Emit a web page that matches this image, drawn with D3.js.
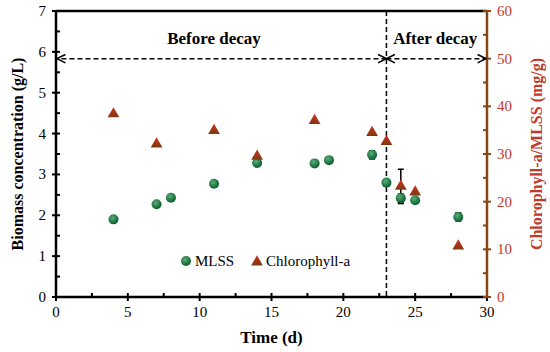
<!DOCTYPE html>
<html>
<head>
<meta charset="utf-8">
<script src="https://cdn.jsdelivr.net/npm/d3@7"></script>
<style>
  body { margin: 0; background: #fff; }
  text { font-family: "Liberation Serif", "Times New Roman", serif; }
</style>
</head>
<body>
<script>
// Data
var mlssDays = [4, 7, 8, 11, 14, 18, 19, 22, 23, 24, 25, 28];
var mlssValues = [1.90, 2.27, 2.43, 2.77, 3.28, 3.27, 3.35, 3.48, 2.80, 2.42, 2.37, 1.96];
var mlssErrors = [0, 0, 0, 0, 0, 0, 0, 0.1, 0, 0.1, 0, 0.1];

var chlDays = [4, 7, 11, 14, 18, 22, 23, 24, 25, 28];
var chlValues = [38.4, 32.1, 34.9, 29.5, 37.0, 34.5, 32.6, 23.2, 22.0, 10.7];
var chlErrors = [0, 0, 0, 0, 0, 0, 0, 3.6, 0, 0];

var decayDay = 23;
var arrowLevel = 50; // on the right axis

var width = 550, height = 352;
var margin = {top: 11, right: 63, bottom: 55, left: 56};

var svg = d3.select("body").append("svg")
  .attr("width", width)
  .attr("height", height);

var x = d3.scaleLinear().domain([0, 30]).range([margin.left, width - margin.right]);
var yL = d3.scaleLinear().domain([0, 7]).range([height - margin.bottom, margin.top]);
var yR = d3.scaleLinear().domain([0, 60]).range([height - margin.bottom, margin.top]);

var brown = "#8b4513";
var red = "#c0392b";

// gradients for markers
var defs = svg.append("defs");
var g1 = defs.append("radialGradient").attr("id", "gGreen").attr("cx", "40%").attr("cy", "35%").attr("r", "65%");
g1.append("stop").attr("offset", "0%").attr("stop-color", "#58ad76");
g1.append("stop").attr("offset", "100%").attr("stop-color", "#0a5c2e");
var g2 = defs.append("linearGradient").attr("id", "gRed").attr("x1", "0").attr("y1", "0").attr("x2", "0").attr("y2", "1");
g2.append("stop").attr("offset", "0%").attr("stop-color", "#d0301c");
g2.append("stop").attr("offset", "100%").attr("stop-color", "#7e3a12");
var mk = defs.append("marker").attr("id", "arr").attr("viewBox", "0 0 10 10")
  .attr("refX", 9).attr("refY", 5).attr("markerWidth", 7).attr("markerHeight", 7)
  .attr("orient", "auto-start-reverse");
mk.append("path").attr("d", "M1,1 L9,5 L1,9").attr("fill", "none").attr("stroke", "#000").attr("stroke-width", 1.5);

// top frame line
svg.append("line")
  .attr("x1", x(0)).attr("x2", x(30)).attr("y1", yL(7)).attr("y2", yL(7))
  .attr("stroke", "#000").attr("stroke-width", 2.5);

var axisG = svg.append("g");

// x axis
axisG.append("line").attr("x1", x(0)).attr("x2", x(30)).attr("y1", yL(0)).attr("y2", yL(0))
  .attr("stroke", "#000").attr("stroke-width", 2.5);
d3.range(0, 30.1, 2.5).forEach(function(v) {
  var major = v % 5 === 0;
  axisG.append("line").attr("x1", x(v)).attr("x2", x(v))
    .attr("y1", yL(0) - 4).attr("y2", yL(0) + (major ? 4 : 0))
    .attr("stroke", "#000").attr("stroke-width", 2);
  if (major) {
    axisG.append("text").attr("x", x(v)).attr("y", yL(0) + 20)
      .attr("text-anchor", "middle").attr("font-size", 15).text(v);
  }
});

// left y axis
axisG.append("line").attr("x1", x(0)).attr("x2", x(0)).attr("y1", yL(0)).attr("y2", yL(7))
  .attr("stroke", "#000").attr("stroke-width", 2.5);
d3.range(0, 7.01, 0.5).forEach(function(v) {
  var major = v % 1 === 0;
  axisG.append("line").attr("x1", x(0) - (major ? 4 : 0)).attr("x2", x(0) + 4)
    .attr("y1", yL(v)).attr("y2", yL(v))
    .attr("stroke", "#000").attr("stroke-width", 2);
  if (major) {
    axisG.append("text").attr("x", x(0) - 10).attr("y", yL(v) + 5)
      .attr("text-anchor", "end").attr("font-size", 15).text(v);
  }
});

// right y axis
axisG.append("line").attr("x1", x(30)).attr("x2", x(30)).attr("y1", yR(0)).attr("y2", yR(60))
  .attr("stroke", brown).attr("stroke-width", 2.5);
d3.range(0, 60.1, 5).forEach(function(v) {
  var major = v % 10 === 0;
  axisG.append("line").attr("x1", x(30) - 4).attr("x2", x(30) + (major ? 4 : 0))
    .attr("y1", yR(v)).attr("y2", yR(v))
    .attr("stroke", brown).attr("stroke-width", 2);
  if (major) {
    axisG.append("text").attr("x", x(30) + 10).attr("y", yR(v) + 5)
      .attr("text-anchor", "start").attr("font-size", 15).attr("fill", red).text(v);
  }
});

// axis titles
svg.append("text").attr("x", x(15)).attr("y", 343)
  .attr("text-anchor", "middle").attr("font-size", 17).attr("font-weight", "bold").text("Time (d)");
svg.append("text")
  .attr("transform", "translate(23," + yL(3.5) + ") rotate(-90)")
  .attr("text-anchor", "middle").attr("font-size", 16).attr("font-weight", "bold")
  .text("Biomass concentration (g/L)");
svg.append("text")
  .attr("transform", "translate(542," + yL(3.5) + ") rotate(-90)")
  .attr("text-anchor", "middle").attr("font-size", 16).attr("font-weight", "bold").attr("fill", red)
  .text("Chlorophyll-a/MLSS (mg/g)");

// decay annotations
svg.append("line").attr("x1", x(decayDay)).attr("x2", x(decayDay)).attr("y1", yL(7)).attr("y2", yL(0))
  .attr("stroke", "#000").attr("stroke-width", 1.5).attr("stroke-dasharray", "5,3");
svg.append("line").attr("x1", x(decayDay)).attr("x2", x(0) + 1).attr("y1", yR(arrowLevel)).attr("y2", yR(arrowLevel))
  .attr("stroke", "#000").attr("stroke-width", 1.5).attr("stroke-dasharray", "5,3")
  .attr("marker-start", "url(#arr)").attr("marker-end", "url(#arr)");
svg.append("line").attr("x1", x(decayDay)).attr("x2", x(30) - 1).attr("y1", yR(arrowLevel)).attr("y2", yR(arrowLevel))
  .attr("stroke", "#000").attr("stroke-width", 1.5).attr("stroke-dasharray", "5,3")
  .attr("marker-start", "url(#arr)").attr("marker-end", "url(#arr)");
svg.append("text").attr("x", x(11)).attr("y", 44)
  .attr("text-anchor", "middle").attr("font-size", 17).attr("font-weight", "bold").text("Before decay");
svg.append("text").attr("x", x(26.4)).attr("y", 44)
  .attr("text-anchor", "middle").attr("font-size", 17).attr("font-weight", "bold").text("After decay");

// error bars
function errBar(cx, yTop, yBot) {
  svg.append("line").attr("x1", cx).attr("x2", cx).attr("y1", yTop).attr("y2", yBot)
    .attr("stroke", "#000").attr("stroke-width", 1.5);
  svg.append("line").attr("x1", cx - 3).attr("x2", cx + 3).attr("y1", yTop).attr("y2", yTop)
    .attr("stroke", "#000").attr("stroke-width", 1.5);
  svg.append("line").attr("x1", cx - 3).attr("x2", cx + 3).attr("y1", yBot).attr("y2", yBot)
    .attr("stroke", "#000").attr("stroke-width", 1.5);
}
mlssDays.forEach(function(d, i) {
  if (mlssErrors[i] > 0) errBar(x(d), yL(mlssValues[i] + mlssErrors[i]), yL(mlssValues[i] - mlssErrors[i]));
});
chlDays.forEach(function(d, i) {
  if (chlErrors[i] > 0) errBar(x(d), yR(chlValues[i] + chlErrors[i]), yR(chlValues[i] - chlErrors[i]));
});

// MLSS points
svg.selectAll(".mlss").data(mlssDays).enter().append("circle")
  .attr("cx", function(d) { return x(d); })
  .attr("cy", function(d, i) { return yL(mlssValues[i]); })
  .attr("r", 5)
  .attr("fill", "url(#gGreen)");

// chlorophyll points
var tri = d3.symbol().type(d3.symbolTriangle).size(60);
svg.selectAll(".chl").data(chlDays).enter().append("path")
  .attr("d", tri)
  .attr("transform", function(d, i) { return "translate(" + x(d) + "," + yR(chlValues[i]) + ")"; })
  .attr("fill", "url(#gRed)");

// legend
var legY = 261;
svg.append("circle").attr("cx", 186).attr("cy", legY).attr("r", 5).attr("fill", "url(#gGreen)");
svg.append("text").attr("x", 195).attr("y", legY + 5).attr("font-size", 15).text("MLSS");
svg.append("path").attr("d", tri).attr("transform", "translate(257," + (legY + 1) + ")").attr("fill", "url(#gRed)");
svg.append("text").attr("x", 266).attr("y", legY + 5).attr("font-size", 15).text("Chlorophyll-a");
</script>
</body>
</html>
